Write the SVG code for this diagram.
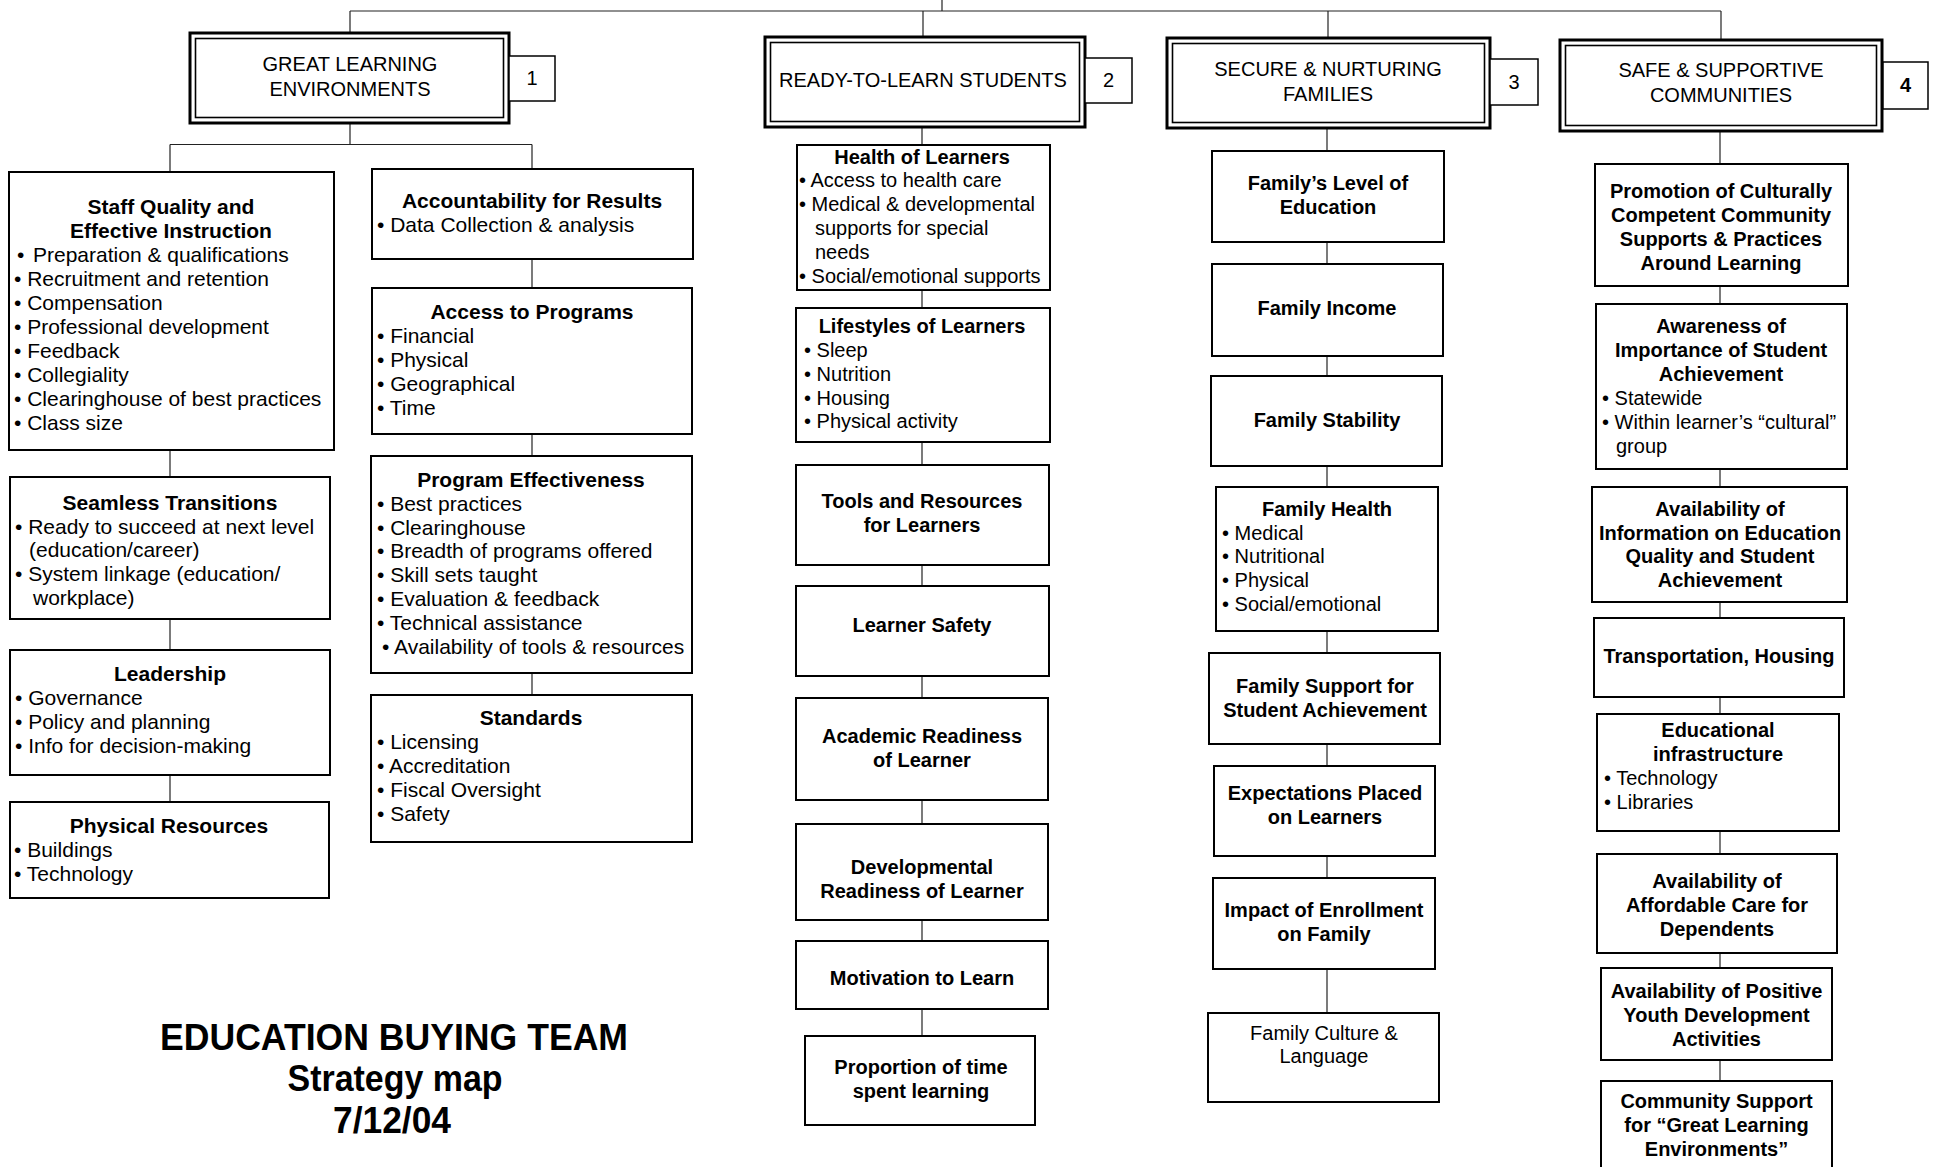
<svg xmlns="http://www.w3.org/2000/svg" width="1937" height="1167" viewBox="0 0 1937 1167">
<style>
.box{fill:#fff;stroke:#000;stroke-width:2}
.hout{fill:#fff;stroke:#000;stroke-width:3}
.hin{fill:none;stroke:#000;stroke-width:1.6}
.num{fill:#fff;stroke:#000;stroke-width:1.5}
.conn line{stroke:#222;stroke-width:1.2}
text{fill:#000}
.n{font-family:"Liberation Sans Narrow","Liberation Sans",Arial,sans-serif;font-size:21px}
.nb{font-family:"Liberation Sans Narrow","Liberation Sans",Arial,sans-serif;font-size:21px;font-weight:bold}
.r{font-family:"Liberation Sans",Arial,sans-serif;font-size:20px}
.rb{font-family:"Liberation Sans",Arial,sans-serif;font-size:20px;font-weight:bold}
.h{font-family:"Liberation Sans",Arial,sans-serif;font-size:20px;text-anchor:middle}
.c{text-anchor:middle}
.title{font-family:"Liberation Sans",Arial,sans-serif;font-size:37px;font-weight:bold;text-anchor:middle}
</style>
<rect width="1937" height="1167" fill="#fff"/>

<g id="connectors" class="conn">
<line x1="350" y1="11" x2="1721" y2="11"/>
<line x1="942" y1="0" x2="942" y2="11"/>
<line x1="350" y1="11" x2="350" y2="33"/>
<line x1="923" y1="11" x2="923" y2="37"/>
<line x1="1328" y1="11" x2="1328" y2="38"/>
<line x1="1721" y1="11" x2="1721" y2="40"/>
<line x1="350" y1="123" x2="350" y2="144.5"/>
<line x1="170" y1="144.5" x2="532" y2="144.5"/>
<line x1="170" y1="144.5" x2="170" y2="172"/>
<line x1="532" y1="144.5" x2="532" y2="169"/>
<line x1="170" y1="450" x2="170" y2="477"/>
<line x1="170" y1="619" x2="170" y2="650"/>
<line x1="170" y1="775" x2="170" y2="802"/>
<line x1="532" y1="259" x2="532" y2="288"/>
<line x1="532" y1="434" x2="532" y2="456"/>
<line x1="532" y1="673" x2="532" y2="695"/>
<line x1="922" y1="127" x2="922" y2="145"/>
<line x1="922" y1="290" x2="922" y2="308"/>
<line x1="922" y1="442" x2="922" y2="465"/>
<line x1="922" y1="565" x2="922" y2="586"/>
<line x1="922" y1="676" x2="922" y2="698"/>
<line x1="922" y1="800" x2="922" y2="824"/>
<line x1="922" y1="920" x2="922" y2="941"/>
<line x1="922" y1="1009" x2="922" y2="1036"/>
<line x1="1327" y1="128" x2="1327" y2="151"/>
<line x1="1327" y1="242" x2="1327" y2="264"/>
<line x1="1327" y1="356" x2="1327" y2="376"/>
<line x1="1327" y1="466" x2="1327" y2="487"/>
<line x1="1327" y1="631" x2="1327" y2="653"/>
<line x1="1327" y1="744" x2="1327" y2="766"/>
<line x1="1327" y1="856" x2="1327" y2="878"/>
<line x1="1327" y1="969" x2="1327" y2="1013"/>
<line x1="1720" y1="131" x2="1720" y2="164"/>
<line x1="1720" y1="286" x2="1720" y2="304"/>
<line x1="1720" y1="469" x2="1720" y2="487"/>
<line x1="1720" y1="602" x2="1720" y2="618"/>
<line x1="1720" y1="697" x2="1720" y2="714"/>
<line x1="1720" y1="831" x2="1720" y2="854"/>
<line x1="1720" y1="953" x2="1720" y2="968"/>
<line x1="1720" y1="1060" x2="1720" y2="1081"/>
</g>

<!-- Header boxes -->
<g id="head1">
<rect class="hout" x="190" y="33" width="319" height="90"/>
<rect class="hin" x="195.5" y="38.5" width="308" height="79"/>
<text class="h" x="350" y="71">GREAT LEARNING</text>
<text class="h" x="350" y="96">ENVIRONMENTS</text>
</g>
<g id="num1"><rect class="num" x="509" y="56" width="46" height="45"/><text class="h" x="532" y="85">1</text></g>

<g id="head2">
<rect class="hout" x="765" y="37" width="320" height="90"/>
<rect class="hin" x="770.5" y="42.5" width="309" height="79"/>
<text class="h" x="923" y="87">READY-TO-LEARN STUDENTS</text>
</g>
<g id="num2"><rect class="num" x="1085" y="58" width="47" height="45"/><text class="h" x="1108.5" y="87">2</text></g>

<g id="head3">
<rect class="hout" x="1167" y="38" width="323" height="90"/>
<rect class="hin" x="1172.5" y="43.5" width="312" height="79"/>
<text class="h" x="1328" y="76">SECURE &amp; NURTURING</text>
<text class="h" x="1328" y="101">FAMILIES</text>
</g>
<g id="num3"><rect class="num" x="1490" y="59" width="48" height="46"/><text class="h" x="1514" y="89">3</text></g>

<g id="head4">
<rect class="hout" x="1560" y="40" width="322" height="91"/>
<rect class="hin" x="1565.5" y="45.5" width="311" height="80"/>
<text class="h" x="1721" y="77">SAFE &amp; SUPPORTIVE</text>
<text class="h" x="1721" y="102">COMMUNITIES</text>
</g>
<g id="num4"><rect class="num" x="1883" y="62" width="45" height="47"/><text class="h" x="1905.5" y="92" font-weight="bold">4</text></g>

<!-- Column 1 left -->
<g id="staff-quality">
<rect class="box" x="9" y="172" width="325" height="278"/>
<text class="nb c" x="171" y="214">Staff Quality and</text>
<text class="nb c" x="171" y="238">Effective Instruction</text>
<text class="n" x="17" y="262">•<tspan x="33">Preparation &amp; qualifications</tspan></text>
<text class="n" x="14" y="286">• Recruitment and retention</text>
<text class="n" x="14" y="310">• Compensation</text>
<text class="n" x="14" y="334">• Professional development</text>
<text class="n" x="14" y="358">• Feedback</text>
<text class="n" x="14" y="382">• Collegiality</text>
<text class="n" x="14" y="406">• Clearinghouse of best practices</text>
<text class="n" x="14" y="430">• Class size</text>
</g>
<g id="seamless-transitions">
<rect class="box" x="10" y="477" width="320" height="142"/>
<text class="nb c" x="170" y="510">Seamless Transitions</text>
<text class="n" x="15" y="534">• Ready to succeed at next level</text>
<text class="n" x="29" y="557">(education/career)</text>
<text class="n" x="15" y="581">• System linkage (education/</text>
<text class="n" x="33" y="605">workplace)</text>
</g>
<g id="leadership">
<rect class="box" x="10" y="650" width="320" height="125"/>
<text class="nb c" x="170" y="681">Leadership</text>
<text class="n" x="15" y="705">• Governance</text>
<text class="n" x="15" y="729">• Policy and planning</text>
<text class="n" x="15" y="753">• Info for decision-making</text>
</g>
<g id="physical-resources">
<rect class="box" x="10" y="802" width="319" height="96"/>
<text class="nb c" x="169" y="833">Physical Resources</text>
<text class="n" x="14" y="857">• Buildings</text>
<text class="n" x="14" y="881">• Technology</text>
</g>

<!-- Column 1 right -->
<g id="accountability">
<rect class="box" x="372" y="169" width="321" height="90"/>
<text class="nb c" x="532" y="208">Accountability for Results</text>
<text class="n" x="377" y="232">• Data Collection &amp; analysis</text>
</g>
<g id="access-programs">
<rect class="box" x="372" y="288" width="320" height="146"/>
<text class="nb c" x="532" y="319">Access to Programs</text>
<text class="n" x="377" y="343">• Financial</text>
<text class="n" x="377" y="367">• Physical</text>
<text class="n" x="377" y="391">• Geographical</text>
<text class="n" x="377" y="415">• Time</text>
</g>
<g id="program-effectiveness">
<rect class="box" x="371" y="456" width="321" height="217"/>
<text class="nb c" x="531" y="487">Program Effectiveness</text>
<text class="n" x="377" y="511">• Best practices</text>
<text class="n" x="377" y="535">• Clearinghouse</text>
<text class="n" x="377" y="558">• Breadth of programs offered</text>
<text class="n" x="377" y="582">• Skill sets taught</text>
<text class="n" x="377" y="606">• Evaluation &amp; feedback</text>
<text class="n" x="377" y="630">• Technical assistance</text>
<text class="n" x="382" y="654">• Availability of tools &amp; resources</text>
</g>
<g id="standards">
<rect class="box" x="371" y="695" width="321" height="147"/>
<text class="nb c" x="531" y="725">Standards</text>
<text class="n" x="377" y="749">• Licensing</text>
<text class="n" x="377" y="773">• Accreditation</text>
<text class="n" x="377" y="797">• Fiscal Oversight</text>
<text class="n" x="377" y="821">• Safety</text>
</g>

<!-- Column 2 -->
<g id="health-learners">
<rect class="box" x="797" y="145" width="253" height="145"/>
<text class="rb c" x="922" y="164">Health of Learners</text>
<text class="r" x="799" y="187">• Access to health care</text>
<text class="r" x="799" y="211">• Medical &amp; developmental</text>
<text class="r" x="815" y="235">supports for special</text>
<text class="r" x="815" y="259">needs</text>
<text class="r" x="799" y="283">• Social/emotional supports</text>
</g>
<g id="lifestyles">
<rect class="box" x="796" y="308" width="254" height="134"/>
<text class="rb c" x="922" y="333">Lifestyles of Learners</text>
<text class="r" x="804" y="357">• Sleep</text>
<text class="r" x="804" y="381">• Nutrition</text>
<text class="r" x="804" y="405">• Housing</text>
<text class="r" x="804" y="428">• Physical activity</text>
</g>
<g id="tools-resources">
<rect class="box" x="796" y="465" width="253" height="100"/>
<text class="rb c" x="922" y="508">Tools and Resources</text>
<text class="rb c" x="922" y="532">for Learners</text>
</g>
<g id="learner-safety">
<rect class="box" x="796" y="586" width="253" height="90"/>
<text class="rb c" x="922" y="632">Learner Safety</text>
</g>
<g id="academic-readiness">
<rect class="box" x="796" y="698" width="252" height="102"/>
<text class="rb c" x="922" y="743">Academic Readiness</text>
<text class="rb c" x="922" y="767">of Learner</text>
</g>
<g id="developmental-readiness">
<rect class="box" x="796" y="824" width="252" height="96"/>
<text class="rb c" x="922" y="874">Developmental</text>
<text class="rb c" x="922" y="898">Readiness of Learner</text>
</g>
<g id="motivation">
<rect class="box" x="796" y="941" width="252" height="68"/>
<text class="rb c" x="922" y="985">Motivation to Learn</text>
</g>
<g id="proportion-time">
<rect class="box" x="805" y="1036" width="230" height="89"/>
<text class="rb c" x="921" y="1074">Proportion of time</text>
<text class="rb c" x="921" y="1098">spent learning</text>
</g>

<!-- Column 3 -->
<g id="family-education">
<rect class="box" x="1212" y="151" width="232" height="91"/>
<text class="rb c" x="1328" y="190">Family’s Level of</text>
<text class="rb c" x="1328" y="214">Education</text>
</g>
<g id="family-income">
<rect class="box" x="1212" y="264" width="231" height="92"/>
<text class="rb c" x="1327" y="315">Family Income</text>
</g>
<g id="family-stability">
<rect class="box" x="1211" y="376" width="231" height="90"/>
<text class="rb c" x="1327" y="427">Family Stability</text>
</g>
<g id="family-health">
<rect class="box" x="1216" y="487" width="222" height="144"/>
<text class="rb c" x="1327" y="516">Family Health</text>
<text class="r" x="1222" y="540">• Medical</text>
<text class="r" x="1222" y="563">• Nutritional</text>
<text class="r" x="1222" y="587">• Physical</text>
<text class="r" x="1222" y="611">• Social/emotional</text>
</g>
<g id="family-support">
<rect class="box" x="1209" y="653" width="231" height="91"/>
<text class="rb c" x="1325" y="693">Family Support for</text>
<text class="rb c" x="1325" y="717">Student Achievement</text>
</g>
<g id="expectations">
<rect class="box" x="1214" y="766" width="221" height="90"/>
<text class="rb c" x="1325" y="800">Expectations Placed</text>
<text class="rb c" x="1325" y="824">on Learners</text>
</g>
<g id="impact-enrollment">
<rect class="box" x="1213" y="878" width="222" height="91"/>
<text class="rb c" x="1324" y="917">Impact of Enrollment</text>
<text class="rb c" x="1324" y="941">on Family</text>
</g>
<g id="family-culture">
<rect class="box" x="1208" y="1013" width="231" height="89"/>
<text class="r c" x="1324" y="1040">Family Culture &amp;</text>
<text class="r c" x="1324" y="1063">Language</text>
</g>

<!-- Column 4 -->
<g id="promotion">
<rect class="box" x="1595" y="164" width="253" height="122"/>
<text class="rb c" x="1721" y="198">Promotion of Culturally</text>
<text class="rb c" x="1721" y="222">Competent Community</text>
<text class="rb c" x="1721" y="246">Supports &amp; Practices</text>
<text class="rb c" x="1721" y="270">Around Learning</text>
</g>
<g id="awareness">
<rect class="box" x="1596" y="304" width="251" height="165"/>
<text class="rb c" x="1721" y="333">Awareness of</text>
<text class="rb c" x="1721" y="357">Importance of Student</text>
<text class="rb c" x="1721" y="381">Achievement</text>
<text class="r" x="1602" y="405">• Statewide</text>
<text class="r" x="1602" y="429">• Within learner’s “cultural”</text>
<text class="r" x="1616" y="453">group</text>
</g>
<g id="information">
<rect class="box" x="1592" y="487" width="255" height="115"/>
<text class="rb c" x="1720" y="516">Availability of</text>
<text class="rb c" x="1720" y="540">Information on Education</text>
<text class="rb c" x="1720" y="563">Quality and Student</text>
<text class="rb c" x="1720" y="587">Achievement</text>
</g>
<g id="transportation">
<rect class="box" x="1594" y="618" width="250" height="79"/>
<text class="rb c" x="1719" y="663">Transportation, Housing</text>
</g>
<g id="educational-infrastructure">
<rect class="box" x="1597" y="714" width="242" height="117"/>
<text class="rb c" x="1718" y="737">Educational</text>
<text class="rb c" x="1718" y="761">infrastructure</text>
<text class="r" x="1604" y="785">• Technology</text>
<text class="r" x="1604" y="809">• Libraries</text>
</g>
<g id="affordable-care">
<rect class="box" x="1597" y="854" width="240" height="99"/>
<text class="rb c" x="1717" y="888">Availability of</text>
<text class="rb c" x="1717" y="912">Affordable Care for</text>
<text class="rb c" x="1717" y="936">Dependents</text>
</g>
<g id="youth-development">
<rect class="box" x="1601" y="968" width="231" height="92"/>
<text class="rb c" x="1716.5" y="998">Availability of Positive</text>
<text class="rb c" x="1716.5" y="1022">Youth Development</text>
<text class="rb c" x="1716.5" y="1046">Activities</text>
</g>
<g id="community-support">
<rect class="box" x="1601" y="1081" width="231" height="100"/>
<text class="rb c" x="1716.5" y="1108">Community Support</text>
<text class="rb c" x="1716.5" y="1132">for “Great Learning</text>
<text class="rb c" x="1716.5" y="1156">Environments”</text>
</g>

<g id="title">
<text class="title" x="394" y="1050" textLength="468" lengthAdjust="spacingAndGlyphs">EDUCATION BUYING TEAM</text>
<text class="title" x="395" y="1091" textLength="215" lengthAdjust="spacingAndGlyphs">Strategy map</text>
<text class="title" x="392" y="1133" textLength="118" lengthAdjust="spacingAndGlyphs">7/12/04</text>
</g>
</svg>
